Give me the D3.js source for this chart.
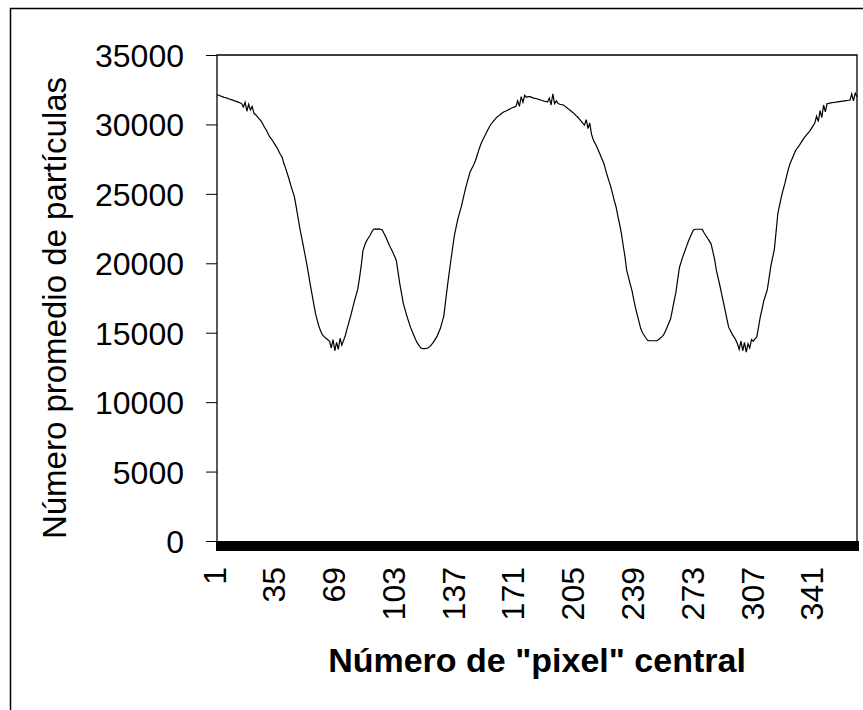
<!DOCTYPE html>
<html lang="es">
<head>
<meta charset="utf-8">
<title>Número promedio de partículas</title>
<style>
  body { margin: 0; background: #fff; }
  svg { display: block; font-family: Arial, "Liberation Sans", sans-serif; }
  .serie { fill: none; stroke: #000; stroke-width: 1.2; }
  .axis path { display: none; }
  .axis line { stroke: #000; }
  .axis text { font-size: 32px; fill: #000; }
</style>
</head>
<body>
<svg width="863" height="710"></svg>
<script src="https://cdn.jsdelivr.net/npm/d3@7/dist/d3.min.js"></script>
<script>
// promedio de partículas por "pixel" central (1..365)
var particulas = [
  32150, 32100, 32050, 32000, 31950, 31920, 31880, 31830, 31790, 31750,
  31700, 31660, 31610, 31560, 31500, 31250, 31600, 30950, 31450, 31050,
  31300, 30800, 30700, 30550, 30400, 30250, 30050, 29800, 29600, 29350,
  29100, 28950, 28750, 28550, 28350, 28100, 27850, 27650, 27200, 26850,
  26450, 26050, 25600, 25200, 24800, 24100, 23350, 22600, 21950, 21300,
  20650, 20000, 19250, 18500, 17800, 17100, 16400, 15900, 15450, 15100,
  14850, 14700, 14600, 14500, 14400, 13900, 14500, 13700, 14300, 13800,
  14600, 14100, 14450, 14800, 15300, 15750, 16200, 16700, 17200, 17650,
  18100, 18900, 19800, 20900, 21300, 21600, 21800, 22000, 22250, 22450,
  22480, 22460, 22480, 22450, 22400, 22150, 21900, 21600, 21300, 21050,
  20800, 20500, 20200, 19350, 18500, 17800, 17100, 16650, 16200, 15800,
  15400, 15100, 14800, 14500, 14250, 14050, 13900, 13850, 13850, 13870,
  13900, 14000, 14150, 14300, 14500, 14700, 15000, 15300, 15750, 16200,
  17250, 18300, 19250, 20200, 21100, 22000, 22600, 23200, 23650, 24100,
  24650, 25200, 25700, 26150, 26600, 26850, 27100, 27400, 27800, 28200,
  28550, 28850, 29100, 29350, 29600, 29850, 30050, 30200, 30350, 30500,
  30600, 30700, 30800, 30900, 30950, 31000, 31080, 31150, 31200, 31250,
  31300, 31700, 31300, 32000, 31600, 32100, 31950, 32000, 32000, 31950,
  31900, 31880, 31850, 31800, 31760, 31720, 31680, 31650, 31620, 31900,
  31400, 32200, 31500, 31700, 31500, 31450, 31420, 31400, 31300, 31200,
  31100, 31000, 30900, 30800, 30650, 30550, 30400, 30250, 30100, 29950,
  30350, 29700, 30100, 29300, 28900, 28650, 28400, 28100, 27800, 27500,
  27200, 26750, 26300, 25900, 25500, 25000, 24500, 24050, 23400, 22800,
  22150, 21300, 20500, 19500, 19000, 18500, 18050, 17400, 16800, 16300,
  15800, 15300, 15000, 14800, 14600, 14450, 14420, 14420, 14420, 14420,
  14420, 14500, 14600, 14700, 14850, 15100, 15400, 15700, 16000, 16650,
  17300, 17900, 18800, 19700, 20100, 20500, 20850, 21200, 21550, 21850,
  22150, 22400, 22450, 22450, 22450, 22450, 22450, 22200, 22000, 21800,
  21600, 21400, 20850, 20300, 19500, 18950, 18400, 17800, 17200, 16600,
  16000, 15400, 15150, 14900, 14700, 14500, 14200, 13800, 14400, 13700,
  14300, 13600, 14200, 13900, 14500, 14400, 14550, 14700, 15400, 16150,
  16700, 17300, 17700, 18100, 18950, 19800, 20400, 21000, 22300, 23600,
  24200, 24800, 25300, 25750, 26300, 26800, 27200, 27500, 27800, 28100,
  28300, 28450, 28650, 28850, 29050, 29200, 29350, 29500, 29700, 29900,
  30100, 30600, 30200, 31000, 30500, 31400, 30900, 31500, 31520, 31550,
  31570, 31590, 31600, 31620, 31640, 31660, 31680, 31700, 31720, 31740,
  31750, 32200, 31700, 32250, 32000
];
var pixeles = d3.range(1, particulas.length + 1);
var xEtiquetas = [1, 35, 69, 103, 137, 171, 205, 239, 273, 307, 341];
var yMarcas = [0, 5000, 10000, 15000, 20000, 25000, 30000, 35000];

var svg = d3.select("svg"),
    margin = {top: 55, right: 6, bottom: 169, left: 217},
    width = +svg.attr("width") - margin.left - margin.right,
    height = +svg.attr("height") - margin.top - margin.bottom;

// marco exterior
svg.append("rect")
    .attr("x", 10.5).attr("y", 8.5)
    .attr("width", 870).attr("height", 720)
    .attr("fill", "#fff").attr("stroke", "#000").attr("stroke-width", 1.5);

var x = d3.scalePoint().domain(pixeles).range([0, width]),
    y = d3.scaleLinear().domain([0, 35000]).range([height, 0]);

var g = svg.append("g")
    .attr("transform", "translate(" + margin.left + "," + margin.top + ")");

// eje y
g.append("g")
    .attr("class", "axis axis--y")
    .call(d3.axisLeft(y).tickValues(yMarcas).tickSize(11).tickPadding(22).tickFormat(d3.format("d")))
  .selectAll("text")
    .attr("dy", "0.36em");

// eje x: una marca por cada pixel, forma la barra negra
var ejeX = g.append("g")
    .attr("class", "axis axis--x")
    .attr("transform", "translate(0," + height + ")")
    .call(d3.axisBottom(x).tickValues(pixeles).tickSize(10)
      .tickFormat(function(d) { return xEtiquetas.indexOf(d) >= 0 ? d : ""; }));
ejeX.selectAll("line").attr("stroke-width", 3);
ejeX.selectAll("text")
    .attr("transform", "rotate(-90)")
    .attr("text-anchor", "end")
    .attr("x", -26)
    .attr("y", 0)
    .attr("dy", "0.25em");

// borde del área de trazado
g.append("path")
    .attr("fill", "none").attr("stroke", "#000").attr("stroke-width", 1.3)
    .attr("d", "M0," + height + "V0H" + width + "V" + height);

g.append("path")
    .datum(particulas)
    .attr("class", "serie")
    .attr("d", d3.line()
      .x(function(d, i) { return x(pixeles[i]); })
      .y(function(d) { return y(d); }));

// títulos
svg.append("text")
    .attr("transform", "translate(66," + (margin.top + height / 2 + 10) + ") rotate(-90)")
    .attr("text-anchor", "middle")
    .style("font-size", "33px")
    .text("Número promedio de partículas");

svg.append("text")
    .attr("x", margin.left + width / 2)
    .attr("y", 672)
    .attr("text-anchor", "middle")
    .style("font-size", "34px")
    .style("font-weight", "bold")
    .text("Número de \"pixel\" central");
</script>
</body>
</html>
